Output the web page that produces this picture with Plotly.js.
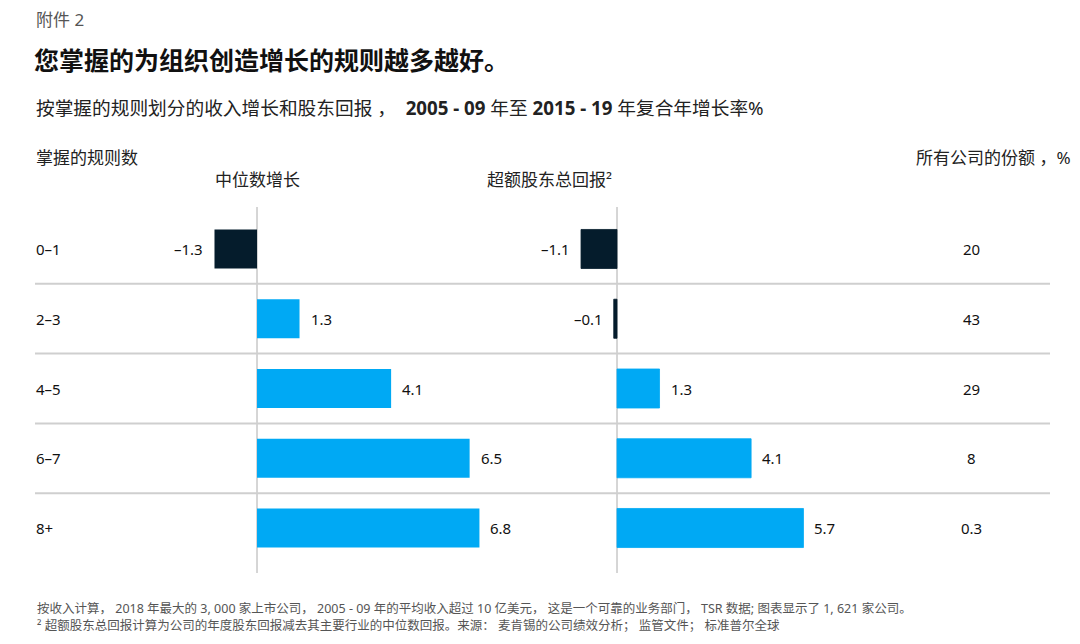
<!DOCTYPE html>
<html>
<head>
<meta charset="utf-8">
<script src="https://cdn.plot.ly/plotly-3.0.1.min.js"></script>
<style>html,body{margin:0;padding:0;background:#fff;}#chart{width:1080px;height:644px;}</style>
</head>
<body>
<div id="chart"></div>
<script>
const categories = ["0–1", "2–3", "4–5", "6–7", "8+"];
const medianGrowth = [-1.3, 1.3, 4.1, 6.5, 6.8];
const excessTSR = [-1.1, -0.1, 1.3, 4.1, 5.7];
const shareOfCompanies = ["20", "43", "29", "8", "0.3"];

const POS = "#00a9f4", NEG = "#051c2c";
const FONT = "Noto Sans, Noto Sans CJK SC, sans-serif";
const W = 1080, H = 644;
const px = v => v / W;
const py = v => 1 - v / H;

const idx = categories.map((c, i) => i);
const fmt = v => (v < 0 ? "–" : "") + Math.abs(v).toFixed(1);

const traces = [
  {type: "bar", orientation: "h", x: medianGrowth, y: idx, xaxis: "x", yaxis: "y",
   marker: {color: medianGrowth.map(v => v < 0 ? NEG : POS)}, width: 0.56, hoverinfo: "skip"},
  {type: "bar", orientation: "h", x: excessTSR, y: idx, xaxis: "x2", yaxis: "y",
   marker: {color: excessTSR.map(v => v < 0 ? NEG : POS), line: {color: excessTSR.map(v => v < 0 ? NEG : POS), width: 0.8}},
   width: 0.56, hoverinfo: "skip"}
];

const annotations = [];
const shapes = [];
function valueLabels(vals, xref) {
  vals.forEach((v, i) => {
    annotations.push({xref: xref, yref: "y", x: v, y: i, text: fmt(v), showarrow: false,
      xanchor: v < 0 ? "right" : "left", xshift: v < 0 ? -9 : 9,
      font: {family: FONT, size: 15, color: "#111"}});
  });
}
valueLabels(medianGrowth, "x");
valueLabels(excessTSR, "x2");

categories.forEach((c, i) => {
  annotations.push({xref: "paper", yref: "y", x: px(34), y: i, text: c, showarrow: false,
    xanchor: "left", font: {family: FONT, size: 15, color: "#111"}});
  annotations.push({xref: "paper", yref: "y", x: px(971), y: i, text: shareOfCompanies[i], showarrow: false,
    xanchor: "center", font: {family: FONT, size: 15, color: "#111"}});
  if (i > 0) {
    shapes.push({type: "line", xref: "paper", yref: "y", x0: px(35), x1: px(1050), y0: i - 0.5, y1: i - 0.5,
      line: {color: "#cfcfcf", width: 2}});
  }
});
["x", "x2"].forEach(xr => {
  shapes.push({type: "line", xref: xr, yref: "y", x0: 0, x1: 0, y0: -0.602, y1: 4.645,
    line: {color: "#c8c8c8", width: 1.5}, layer: "below"});
});

function textAnn(x, y, text, size, anchor, color, bold) {
  annotations.push({xref: "paper", yref: "paper", x: px(x), y: py(y), text: bold ? "<b>" + text + "</b>" : text,
    showarrow: false, xanchor: anchor, yanchor: "middle",
    font: {family: FONT, size: size, color: color}});
}
textAnn(34, 20, "附件 2", 17, "left", "#555");
textAnn(32, 60, "您掌握的为组织创造增长的规则越多越好。", 25, "left", "#111", true);
textAnn(34, 107, "按掌握的规则划分的收入增长和股东回报 ，  <b>2005 - 09</b> 年至 <b>2015 - 19</b> 年复合年增长率%", 18.7, "left", "#222");
textAnn(34, 157, "掌握的规则数", 17, "left", "#222");
textAnn(1073, 157, "所有公司的份额 ，%", 17, "right", "#222");
textAnn(257, 180, "中位数增长", 17, "center", "#222");
textAnn(549, 180, "超额股东总回报²", 17, "center", "#222");
textAnn(35, 608, "按收入计算， 2018 年最大的 3, 000 家上市公司， 2005 - 09 年的平均收入超过 10 亿美元， 这是一个可靠的业务部门， TSR 数据; 图表显示了 1, 621 家公司。", 12.5, "left", "#555");
textAnn(35, 625, "² 超额股东总回报计算为公司的年度股东回报减去其主要行业的中位数回报。来源： 麦肯锡的公司绩效分析； 监管文件； 标准普尔全球", 12.5, "left", "#555");

const xr = [-2.66, 8.04];
const layout = {
  width: W, height: H, margin: {l: 0, r: 0, t: 0, b: 0},
  paper_bgcolor: "#fff", plot_bgcolor: "rgba(0,0,0,0)", showlegend: false,
  xaxis: {domain: [px(170), px(520)], range: xr, visible: false, fixedrange: true},
  xaxis2: {domain: [px(530), px(880)], range: xr, visible: false, fixedrange: true},
  yaxis: {domain: [py(573), py(207)], range: [4.645, -0.602], visible: false, fixedrange: true},
  annotations: annotations, shapes: shapes
};
Plotly.newPlot("chart", traces, layout, {displayModeBar: false, staticPlot: true});
</script>
</body>
</html>
